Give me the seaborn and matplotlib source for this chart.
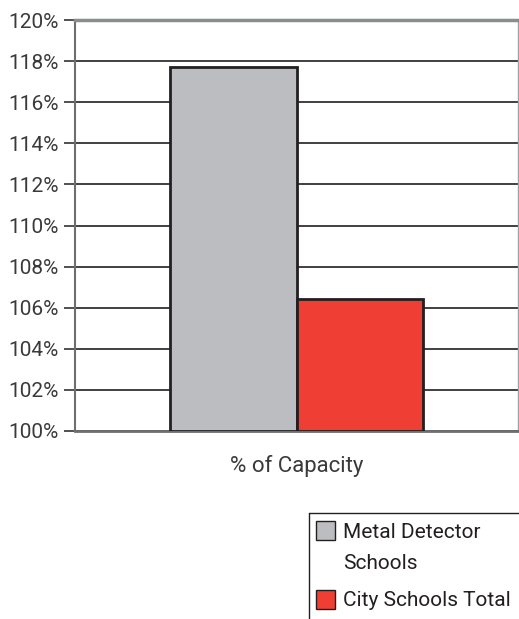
import pandas as pd
import matplotlib.pyplot as plt
import seaborn as sns
from matplotlib.ticker import FuncFormatter
from matplotlib.patches import Rectangle

# ── Data ────────────────────────────────────────────────────────────
category = ["% of Capacity"]
series = ["Metal Detector\nSchools", "City Schools Total"]
values = [117.7, 106.4]
colors = ["#BCBDC0", "#EF3E33"]
yticks = list(range(100, 121, 2))

df = pd.DataFrame({"group": category * len(series), "series": series, "value": values})

# ── Plot ────────────────────────────────────────────────────────────
sns.set_style("white")
plt.rcParams["font.family"] = ["Roboto", "DejaVu Sans"]

W, H = 519, 619
fig = plt.figure(figsize=(W / 100, H / 100), dpi=100)
ax = fig.add_axes([75 / W, 1 - 431 / H, 443 / W, 411 / H])

sns.barplot(data=df, x="group", y="value", hue="series", palette=colors,
            saturation=1, width=0.573, gap=0, edgecolor="#231f20", linewidth=2,
            ax=ax, legend=False, zorder=3)

# axis starts at 100% -> bars grow from there
for p in ax.patches:
    h = p.get_height()
    p.set_y(100)
    p.set_height(h - 100)

ax.set_ylim(100, 120)
ax.set_xlim(-0.5, 0.5)
ax.set_yticks(yticks)
ax.yaxis.set_major_formatter(FuncFormatter(lambda v, _: f"{v:.0f}%"))
ax.yaxis.grid(True, color="#231f20", linewidth=1.2, zorder=0)
ax.tick_params(axis="y", left=True, length=8, width=1.2, color="#333333",
               labelsize=15, labelcolor="#3a3a3a", pad=4)
ax.tick_params(axis="x", labelsize=16, labelcolor="#3a3a3a", pad=17, length=0)
ax.set_xlabel("")
ax.set_ylabel("")

ax.spines["top"].set_color("#8a8d90")
ax.spines["top"].set_linewidth(2.5)
ax.spines["right"].set_color("#a0a3a6")
ax.spines["right"].set_linewidth(1)
ax.spines["left"].set_color("#6d7073")
ax.spines["left"].set_linewidth(1.5)
ax.spines["bottom"].set_color("#6d7073")
ax.spines["bottom"].set_linewidth(2)

# ── Legend (placed by hand to match the boxed layout) ───────────────
def fx(px):
    return px / W


def fy(py):
    return 1 - py / H


fig.add_artist(plt.Line2D([fx(309), fx(309)], [0, fy(513)], color="#231f20", linewidth=1))
fig.add_artist(plt.Line2D([fx(309), 1], [fy(513), fy(513)], color="#231f20", linewidth=1))

legend_rows = [(521, 532), (590, 600)]
for (top, ytxt), c, label in zip(legend_rows, colors, series):
    fig.add_artist(Rectangle((fx(316), fy(top + 19)), 19 / W, 19 / H,
                             facecolor=c, edgecolor="#231f20", linewidth=1,
                             transform=fig.transFigure))
    if "\n" in label:
        fig.text(fx(343), fy(ytxt - 9), label, fontsize=15, color="#231f20",
                 ha="left", va="top", linespacing=1.78)
    else:
        fig.text(fx(343), fy(ytxt), label, fontsize=15, color="#231f20",
                 ha="left", va="center")

fig.savefig("out.png", dpi=100)
